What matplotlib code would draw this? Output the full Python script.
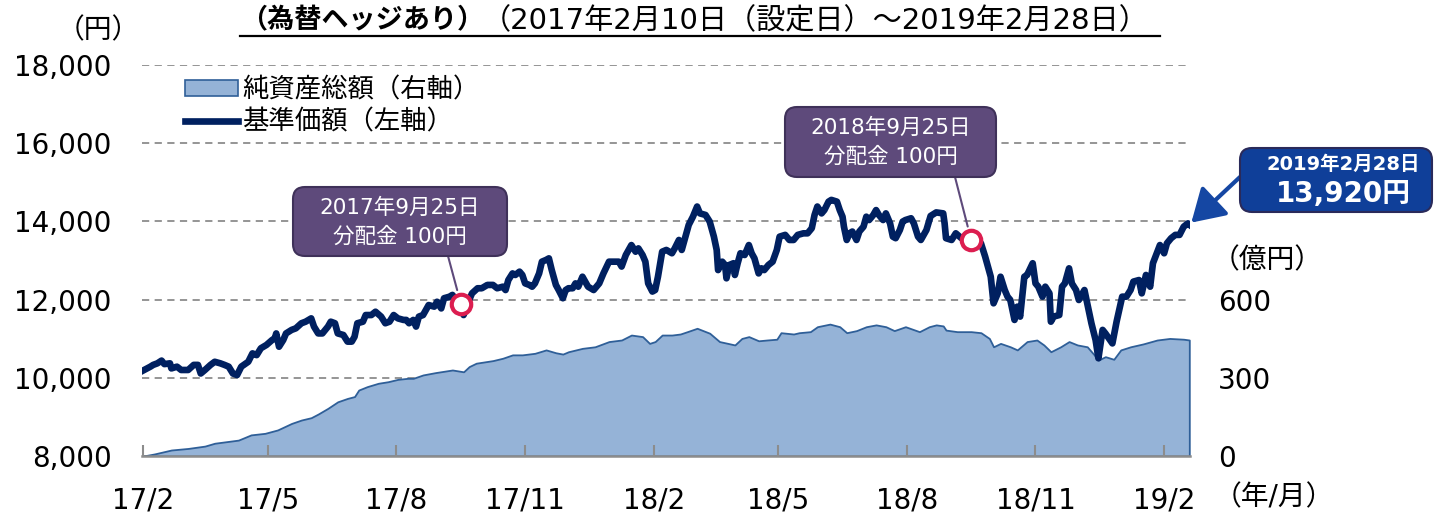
import numpy as np
import pandas as pd
import matplotlib
matplotlib.use("Agg")
import matplotlib.pyplot as plt
from matplotlib.patches import FancyBboxPatch, Patch
from matplotlib.lines import Line2D
from matplotlib.transforms import IdentityTransform

FAM = ['DejaVu Sans', 'Noto Sans CJK JP']
plt.rcParams['font.family'] = FAM

# ---------------- data ----------------
start_date = "2017-02-10"
# NAV (基準価額, 円): days since launch, value
nav_day = [0, 5, 7, 10, 13, 15, 19, 20, 24, 27, 32, 36, 39, 41, 44, 48, 51, 55, 58, 61,
           64, 67, 70, 75, 78, 81, 84, 88, 92, 94, 95, 97, 100, 102, 106, 109, 113, 116, 120, 122,
           125, 128, 132, 134, 137, 139, 143, 146, 149, 151, 153, 157, 159, 163, 166, 170, 173, 176, 179, 182,
           186, 188, 190, 193, 195, 197, 200, 202, 204, 208, 210, 213, 215, 219, 221, 225, 227, 229, 232, 235,
           239, 242, 246, 250, 253, 257, 259, 261, 264, 266, 269, 271, 273, 276, 278, 280, 283, 285, 288, 290,
           292, 295, 297, 300, 302, 304, 307, 309, 311, 314, 316, 318, 322, 326, 329, 333, 336, 340, 342, 345,
           347, 349, 352, 354, 357, 359, 361, 364, 366, 368, 371, 374, 378, 380, 383, 385, 387, 390, 393, 396,
           398, 402, 405, 408, 410, 411, 414, 416, 417, 419, 422, 423, 425, 427, 430, 433, 435, 437, 440, 442,
           444, 447, 450, 453, 455, 459, 462, 465, 468, 472, 475, 478, 480, 482, 485, 487, 490, 492, 496, 498,
           500, 501, 503, 505, 507, 510, 512, 515, 517, 519, 522, 524, 526, 529, 531, 534, 536, 538, 541, 543,
           545, 549, 551, 554, 556, 560, 563, 567, 572, 573, 574, 578, 581, 585, 588, 592, 599, 602, 606, 608,
           611, 613, 616, 618, 620, 623, 625, 627, 630, 632, 636, 638, 640, 643, 645, 648, 649, 651, 655, 657,
           659, 662, 664, 667, 669, 673, 676, 678, 681, 683, 686, 688, 693, 696, 700, 703, 706, 708, 712, 714,
           717, 720, 722, 727, 730, 732, 735, 738, 741, 744, 747, 748]
nav_val = [10190, 10285, 10330, 10370, 10440, 10350, 10370, 10240, 10285, 10200, 10200, 10330, 10330, 10110, 10200, 10330, 10410, 10370, 10330, 10285,
           10110, 10070, 10285, 10410, 10625, 10580, 10755, 10840, 10965, 11010, 11135, 10795, 10965, 11135, 11225, 11265, 11395, 11435, 11520, 11310,
           11135, 11135, 11310, 11435, 11395, 11135, 11095, 10925, 10925, 11050, 11395, 11435, 11605, 11605, 11690, 11565, 11395, 11435, 11605, 11520,
           11480, 11480, 11395, 11480, 11310, 11565, 11605, 11735, 11860, 11820, 11945, 11775, 12035, 12075, 12120, 11905, 11900, 11605, 11905, 12160,
           12290, 12290, 12375, 12375, 12290, 12330, 12245, 12500, 12670, 12630, 12715, 12630, 12415, 12375, 12330, 12415, 12670, 12970, 13015, 13055,
           12760, 12375, 12245, 12035, 12245, 12290, 12290, 12415, 12330, 12585, 12460, 12330, 12245, 12415, 12670, 12970, 12970, 12970, 12845, 13140,
           13270, 13395, 13225, 13310, 13140, 12970, 12415, 12205, 12245, 12585, 13225, 13270, 13185, 13310, 13525, 13270, 13525, 13910, 14120, 14380,
           14205, 14165, 13995, 13610, 13270, 12755, 12970, 12885, 12545, 12885, 12930, 12630, 12930, 13185, 13140, 13395, 13185, 13055, 12670, 12800,
           12755, 12885, 12970, 13270, 13610, 13655, 13525, 13525, 13655, 13695, 13695, 13825, 14165, 14380, 14205, 14290, 14505, 14550, 14505, 14290,
           14120, 13865, 13525, 13695, 13740, 13525, 13740, 13865, 14120, 14035, 14165, 14290, 14165, 14035, 14205, 13950, 13610, 13570, 13780, 13995,
           14035, 14080, 13950, 13610, 13525, 13780, 14140, 14230, 14205, 13950, 13570, 13525, 13695, 13570, 13525, 13525, 13440, 13100, 12585, 11905,
           12160, 12585, 12245, 12075, 11990, 11480, 11820, 11565, 12585, 12630, 12930, 12415, 12330, 12075, 12330, 12160, 11435, 11565, 11605, 12330,
           12415, 12800, 12415, 12245, 11990, 12245, 11735, 11395, 10965, 10500, 11225, 11135, 10880, 11435, 12075, 12075, 12245, 12460, 12500, 12160,
           12630, 12330, 12930, 13395, 13185, 13440, 13570, 13655, 13655, 13865, 13950, 13920]

# Net assets (純資産総額, 億円)
aum_day = [0, 8, 20, 32, 44, 51, 68, 77, 87, 96, 106, 113, 120, 125, 132, 139, 146, 151, 154, 160,
           168, 175, 182, 189, 193, 200, 209, 221, 229, 233, 238, 250, 257, 264, 271, 280, 288, 295, 300, 304,
           314, 323, 333, 342, 349, 357, 362, 366, 371, 378, 384, 389, 396, 405, 412, 418, 423, 428, 433, 440,
           446, 453, 456, 465, 469, 477, 482, 491, 498, 503, 510, 517, 524, 531, 537, 545, 555, 562, 567, 572,
           574, 582, 592, 599, 605, 608, 613, 620, 625, 632, 639, 644, 649, 656, 662, 668, 675, 680, 683, 688,
           694, 699, 706, 715, 725, 734, 744, 748]
aum_val = [0, 8, 23, 29, 38, 49, 61, 81, 87, 100, 125, 138, 147, 161, 183, 208, 221, 228, 253, 266,
           279, 285, 294, 298, 298, 311, 320, 330, 323, 343, 356, 366, 375, 388, 388, 394, 407, 396, 391, 400,
           413, 419, 439, 445, 464, 458, 432, 439, 464, 464, 468, 477, 490, 471, 439, 432, 426, 451, 458, 442,
           445, 448, 473, 468, 473, 477, 496, 506, 496, 473, 481, 496, 503, 496, 481, 496, 477, 496, 503, 499,
           483, 477, 477, 473, 451, 419, 432, 419, 407, 439, 445, 426, 400, 419, 439, 426, 419, 388, 368, 381,
           371, 407, 419, 430, 445, 451, 448, 445]

dist_dates = ["2017-09-25", "2018-09-25"]
dist_labels = ["2017年9月25日\n分配金 100円", "2018年9月25日\n分配金 100円"]
last_date_label = "2019年2月28日"
last_value_label = "13,920円"

xtick_dates = ["2017-02-10", "2017-05-10", "2017-08-10", "2017-11-10", "2018-02-10",
               "2018-05-10", "2018-08-10", "2018-11-10", "2019-02-10"]
xtick_labels = ["17/2", "17/5", "17/8", "17/11", "18/2", "18/5", "18/8", "18/11", "19/2"]
left_ticks = [8000, 10000, 12000, 14000, 16000, 18000]
right_ticks = [0, 300, 600, 900, 1200, 1500]
right_labels = ["0", "300", "600", "", "", ""]

# ---------------- figure ----------------
W, H = 1435, 512
fig = plt.figure(figsize=(W / 100, H / 100), dpi=100)

def fx(px):
    return px / W

def fy(py):
    return (H - py) / H

t0 = pd.Timestamp(start_date)
nav_dates = t0 + pd.to_timedelta(nav_day, unit="D")
aum_dates = t0 + pd.to_timedelta(aum_day, unit="D")

ax = fig.add_axes([fx(142), fy(456), fx(1190) - fx(142), fy(65) - fy(456)])
ax2 = ax.twinx()
ax.set_zorder(ax2.get_zorder() + 1)
ax.patch.set_visible(False)

# area (right axis)
ax2.fill_between(aum_dates, aum_val, 0, facecolor="#95b3d7", edgecolor="#2f5f98",
                 linewidth=1.3, zorder=3)
ax2.set_ylim(0, 1500)
ax2.set_yticks(right_ticks)
ax2.set_yticklabels(right_labels)
ax2.yaxis.grid(True, color="#8c8c8c", linestyle=(0, (4, 3)), linewidth=1.3, zorder=0)
ax2.set_axisbelow(True)
ax2.tick_params(axis="y", length=0, pad=20, labelsize=20)
for s in ax2.spines.values():
    s.set_visible(False)

# NAV line (left axis)
ax.plot(nav_dates, nav_val, color="#002060", linewidth=4.8, solid_joinstyle="round", zorder=4)
ax.set_ylim(8000, 18000)
ax.set_yticks(left_ticks)
ax.set_yticklabels([f"{v:,}" for v in left_ticks])
ax.tick_params(axis="y", length=0, pad=22, labelsize=20)
ax.set_xlim(t0 - pd.Timedelta(days=1), t0 + pd.Timedelta(days=748.5))
ax.set_xticks(pd.to_datetime(xtick_dates))
ax.set_xticklabels(xtick_labels)
ax.tick_params(axis="x", direction="in", length=8, width=1.5, color="#8c8c8c",
               pad=22, labelsize=20)
for k in ["left", "right", "top"]:
    ax.spines[k].set_visible(False)
ax.spines["bottom"].set_color("#8c8c8c")
ax.spines["bottom"].set_linewidth(1.8)
ax.spines["bottom"].set_zorder(5)

# distribution markers
dd = pd.to_datetime(dist_dates)
dist_day = (dd - t0).days.values
dist_val = np.interp(dist_day, nav_day, nav_val)
ax.plot(dd, dist_val, linestyle="none", marker="o", markersize=14, markerfacecolor="white",
        markeredgecolor="#dc1e50", markeredgewidth=3, zorder=6)

# annotation boxes
def box(x0, y0, x1, y1, fc, ec):
    p = FancyBboxPatch((x0, H - y1), x1 - x0, y1 - y0,
                       boxstyle="round,pad=0,rounding_size=12",
                       facecolor=fc, edgecolor=ec, linewidth=1.5,
                       transform=IdentityTransform(), zorder=10)
    fig.add_artist(p)

purple = "#5e4a7b"
boxes = [(293, 187, 507, 256, 448), (785, 107, 996, 177, 955)]
for (x0, y0, x1, y1, cx), lab, d, v in zip(boxes, dist_labels, dd, dist_val):
    ax.annotate("", xy=(d, v), xycoords="data", xytext=(cx, H - y1), textcoords="figure pixels",
                arrowprops=dict(arrowstyle="-", color="#5e4a7b", lw=1.5, shrinkA=0, shrinkB=10),
                zorder=9, annotation_clip=False)
    box(x0, y0, x1, y1, purple, "#3f3159")
    l1, l2 = lab.split("\n")
    fig.text(fx((x0 + x1) / 2), fy(y0 + 21), l1, color="white", fontsize=15.5,
             ha="center", va="center", zorder=11)
    fig.text(fx((x0 + x1) / 2), fy(y0 + 50), l2, color="white", fontsize=15.5,
             ha="center", va="center", zorder=11)

# last value callout
ax.annotate("", xy=(nav_dates[-1], nav_val[-1]), xycoords="data",
            xytext=(1240, H - 177), textcoords="figure pixels",
            arrowprops=dict(arrowstyle="-|>,head_length=0.9,head_width=0.55", color="#1547a3",
                            lw=3, mutation_scale=22, shrinkA=0, shrinkB=2),
            zorder=9, annotation_clip=False)
box(1240, 148, 1432, 212, "#0f3f99", "#2a2a5a")
fig.text(fx(1343), fy(164), last_date_label, color="white", fontsize=14, fontweight="bold",
         ha="center", va="center", zorder=11)
fig.text(fx(1343), fy(194), last_value_label, color="white", fontsize=20, fontweight="bold",
         ha="center", va="center", zorder=11)

# legend
handles = [Patch(facecolor="#95b3d7", edgecolor="#2f5f98", linewidth=1.2),
           Line2D([0], [0], color="#002060", linewidth=4.8)]
ax.legend(handles, ["純資産総額（右軸）", "基準価額（左軸）"], loc="upper left",
          bbox_to_anchor=(fx(172), fy(64)), bbox_transform=fig.transFigure,
          frameon=False, prop={"family": FAM, "size": 19}, handlelength=2.0,
          handleheight=0.6, handletextpad=0.15, labelspacing=0.25, borderpad=0)

# title
fig.text(fx(240), fy(21), "（為替ヘッジあり）", fontsize=19.5, fontweight="bold",
         ha="left", va="center")
fig.text(fx(482), fy(21), "（2017年2月10日（設定日）～2019年2月28日）", fontsize=21,
         ha="left", va="center")
fig.add_artist(Line2D([fx(240), fx(1160)], [fy(36), fy(36)], color="black", linewidth=1.6,
                      transform=fig.transFigure))

# unit labels
fig.text(fx(98), fy(30), "（円）", fontsize=20, ha="center", va="center")
fig.text(fx(1267), fy(260), "（億円）", fontsize=20, ha="center", va="center")
fig.text(fx(1274), fy(497), "（年/月）", fontsize=20, ha="center", va="center")

fig.savefig("out.png", dpi=100)
